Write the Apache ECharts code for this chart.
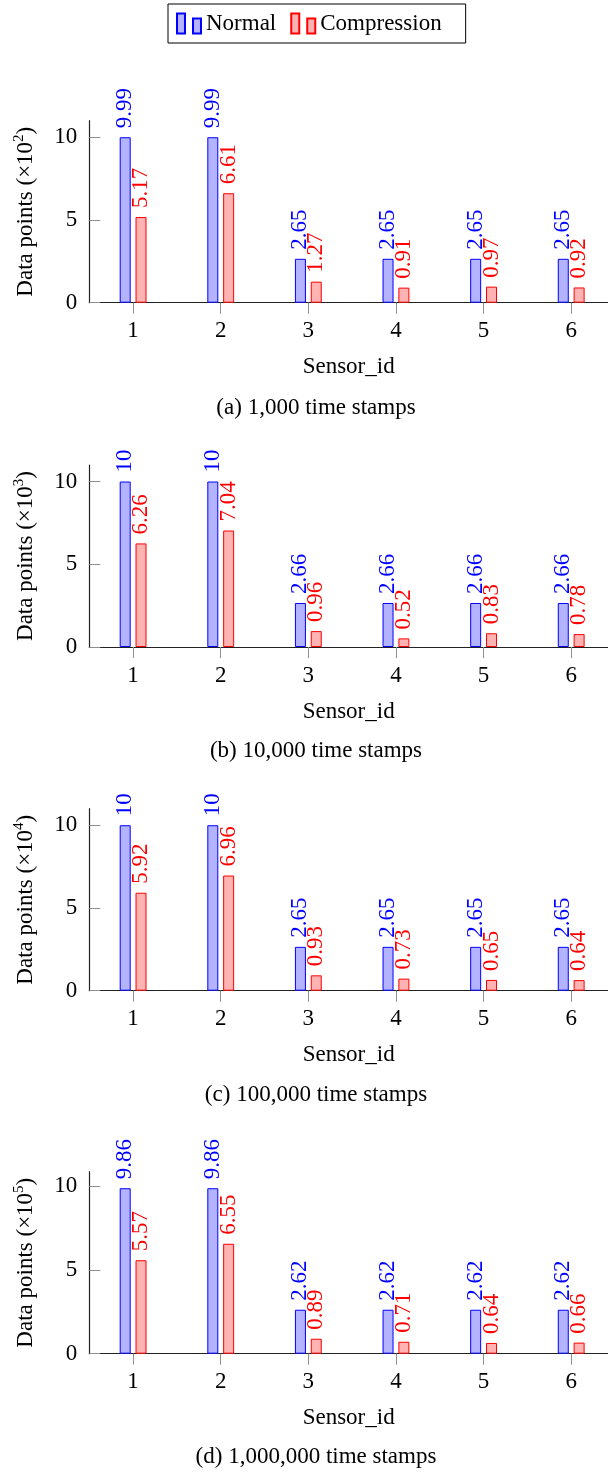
<!DOCTYPE html>
<html>
<head>
<meta charset="utf-8">
<script src="https://cdn.jsdelivr.net/npm/echarts@6/dist/echarts.min.js"></script>
<style>
html,body{margin:0;padding:0;background:#fff;}
#c{width:608px;height:1476px;}
</style>
</head>
<body>
<div id="c"></div>
<script>
// ---- data ----
const sensorIds = [1, 2, 3, 4, 5, 6];
const normalA = [9.99, 9.99, 2.65, 2.65, 2.65, 2.65];
const compA   = [5.17, 6.61, 1.27, 0.91, 0.97, 0.92];
const normalB = [10, 10, 2.66, 2.66, 2.66, 2.66];
const compB   = [6.26, 7.04, 0.96, 0.52, 0.83, 0.78];
const normalC = [10, 10, 2.65, 2.65, 2.65, 2.65];
const compC   = [5.92, 6.96, 0.93, 0.73, 0.65, 0.64];
const normalD = [9.86, 9.86, 2.62, 2.62, 2.62, 2.62];
const compD   = [5.57, 6.55, 0.89, 0.71, 0.64, 0.66];
const yTickValues = [0, 5, 10];
const exponents = ['2', '3', '4', '5'];
const captions = ['(a) 1,000 time stamps', '(b) 10,000 time stamps', '(c) 100,000 time stamps', '(d) 1,000,000 time stamps'];
const seriesNames = ['Normal', 'Compression'];

// ---- layout / style ----
const FONT = 'Liberation Serif';
const FS = 23;
const panels = [
  {normal: normalA, comp: compA},
  {normal: normalB, comp: compB},
  {normal: normalC, comp: compC},
  {normal: normalD, comp: compD}
];
const gridTops = [120.7, 465, 808.7, 1171.7];
const gridH = 182;
const captionY = [408, 751, 1095, 1457];
const blue = '#0000ff', red = '#ff0000';
const blueFill = '#b3b3ff', redFill = '#ffb3b3';
const tickColor = '#8f8f8f';

const grids = [], xAxes = [], yAxes = [], series = [], graphics = [];
panels.forEach((p, i) => {
  grids.push({left: 89.3, right: 0, top: gridTops[i], height: gridH, containLabel: false});
  xAxes.push({
    type: 'value', gridIndex: i, min: 0.5, max: 6.42,
    name: 'Sensor_id', nameLocation: 'middle', nameGap: 53,
    nameTextStyle: {fontFamily: FONT, fontSize: FS, color: '#000'},
    axisLine: {show: true, lineStyle: {color: '#222', width: 1.2}},
    axisTick: {show: true, inside: false, length: 11, lineStyle: {color: tickColor, width: 1}, customValues: sensorIds},
    axisLabel: {show: true, margin: 17, fontFamily: FONT, fontSize: FS, color: '#000', customValues: sensorIds},
    splitLine: {show: false}
  });
  const ymax = Math.max(...p.normal) * 1.1;
  yAxes.push({
    type: 'value', gridIndex: i, min: 0, max: ymax,
    name: '{a|Data points (×10}{s|' + exponents[i] + '}{a|)}',
    nameLocation: 'middle', nameGap: 52, nameRotate: 90,
    nameTextStyle: {
      fontFamily: FONT, fontSize: FS, color: '#000',
      rich: {
        a: {fontFamily: FONT, fontSize: FS, color: '#000', lineHeight: 26, verticalAlign: 'bottom'},
        s: {fontFamily: FONT, fontSize: 15, color: '#000', lineHeight: 26, verticalAlign: 'top'}
      }
    },
    axisLine: {show: true, lineStyle: {color: '#222', width: 1.2}},
    axisTick: {show: true, inside: true, length: 11, lineStyle: {color: tickColor, width: 1}, customValues: yTickValues},
    axisLabel: {show: true, margin: 12, fontFamily: FONT, fontSize: FS, color: '#000', customValues: yTickValues},
    splitLine: {show: false}
  });
  const mk = (name, vals, fill, stroke) => ({
    type: 'bar', name: name, xAxisIndex: i, yAxisIndex: i,
    data: sensorIds.map((s, k) => [s, vals[k]]),
    barWidth: 11, barGap: '44%',
    itemStyle: {color: fill, borderColor: stroke, borderWidth: 1},
    label: {
      show: true, position: 'top', rotate: 90, align: 'left', verticalAlign: 'middle',
      distance: 9, fontFamily: FONT, fontSize: FS, color: stroke,
      formatter: (d) => String(d.value[1])
    },
    emphasis: {disabled: true},
    animation: false
  });
  series.push(mk(seriesNames[0], p.normal, blueFill, blue));
  series.push(mk(seriesNames[1], p.comp, redFill, red));
  graphics.push({
    type: 'text', x: 316, y: captionY[i],
    style: {text: captions[i], fontFamily: FONT, fontSize: FS, fill: '#000', textAlign: 'center', textVerticalAlign: 'middle'}
  });
});

const chart = echarts.init(document.getElementById('c'), null, {renderer: 'canvas'});
chart.setOption({
  backgroundColor: '#fff',
  animation: false,
  textStyle: {fontFamily: FONT, fontSize: FS},
  legend: {
    left: 168, top: 4,
    padding: [8, 24, 8, 8],
    itemGap: 14, itemWidth: 24, itemHeight: 20,
    icon: 'path://M0,0 L8,0 L8,20 L0,20 Z M16,5 L24,5 L24,20 L16,20 Z',
    borderColor: '#000', borderWidth: 1, borderRadius: 0,
    selectedMode: false,
    textStyle: {fontFamily: FONT, fontSize: FS, color: '#000'},
    data: seriesNames
  },
  grid: grids, xAxis: xAxes, yAxis: yAxes, series: series, graphic: graphics
});
</script>
</body>
</html>
